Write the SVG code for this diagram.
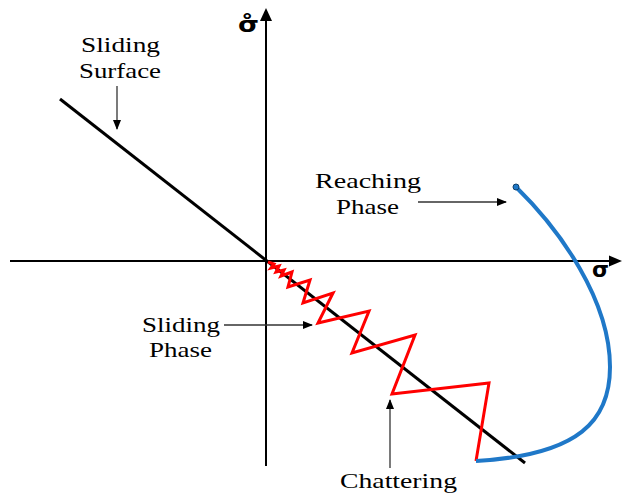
<svg xmlns="http://www.w3.org/2000/svg" width="622" height="498" viewBox="0 0 622 498">
<style>
.ann{stroke:#333;stroke-width:1.3;fill:none}
.ax{stroke:#000;stroke-width:2;fill:none}
</style>
<defs>
<marker id="ah" markerWidth="10" markerHeight="8" refX="9" refY="4" orient="auto" markerUnits="userSpaceOnUse">
<path d="M0,0 L10,4 L0,8 Z" fill="#000"/>
</marker>
</defs>
<rect width="622" height="498" fill="#fff"/>
<g id="axes">
<line class="ax" x1="10" y1="261" x2="610" y2="261"/>
<polygon points="622,261 609,255.5 609,266.5" fill="#000"/>
<line class="ax" x1="266" y1="466" x2="266" y2="20"/>
<polygon points="266,8 260,21 272,21" fill="#000"/>
</g>
<g id="sliding-surface-line">
<line x1="60" y1="99" x2="525" y2="463" stroke="#000" stroke-width="3"/>
</g>
<g id="chattering-zigzag">
<polyline points="268,262 274,264 271,268 279,266 276,272 284,270 281,276 292,272 288,287 310,280 303,303 333,293 318,323 369,311 352,353 415,335 392,394 489,383 476,461" fill="none" stroke="#ff0000" stroke-width="3" stroke-linejoin="miter"/>
</g>
<g id="reaching-trajectory">
<path d="M516,187 C560,230 610,300 610,367 C610,420 580,455 476,461" fill="none" stroke="#1f78c8" stroke-width="4"/>
<circle cx="516" cy="187" r="3" fill="#1f78c8" stroke="#10406a" stroke-width="1"/>
</g>
<g id="axis-labels" font-family="DejaVu Sans, sans-serif" font-weight="bold" font-size="22" fill="#000">
<text x="238" y="32" textLength="21" lengthAdjust="spacingAndGlyphs">σ̊</text>
<text x="592" y="277" textLength="17" lengthAdjust="spacingAndGlyphs">σ</text>
</g>
<g font-family="Liberation Serif, Times New Roman, Times, serif" font-size="21" fill="#000">
<g id="label-sliding-surface">
<text x="81" y="52" textLength="79" lengthAdjust="spacingAndGlyphs">Sliding</text>
<text x="79" y="78" textLength="82" lengthAdjust="spacingAndGlyphs">Surface</text>
</g>
<g id="label-reaching-phase">
<text x="315" y="188" textLength="106" lengthAdjust="spacingAndGlyphs">Reaching</text>
<text x="336" y="214" textLength="63" lengthAdjust="spacingAndGlyphs">Phase</text>
</g>
<g id="label-sliding-phase">
<text x="142" y="332" textLength="78" lengthAdjust="spacingAndGlyphs">Sliding</text>
<text x="149" y="357" textLength="63" lengthAdjust="spacingAndGlyphs">Phase</text>
</g>
<g id="label-chattering">
<text x="340" y="488" textLength="117" lengthAdjust="spacingAndGlyphs">Chattering</text>
</g>
</g>
<g id="connectors">
<line class="ann" x1="117" y1="86" x2="117" y2="129" marker-end="url(#ah)"/>
<line class="ann" x1="418" y1="202" x2="506" y2="202" marker-end="url(#ah)"/>
<line class="ann" x1="224" y1="325" x2="312" y2="325" marker-end="url(#ah)"/>
<line class="ann" x1="390" y1="468" x2="390" y2="400" marker-end="url(#ah)"/>
</g>
</svg>
